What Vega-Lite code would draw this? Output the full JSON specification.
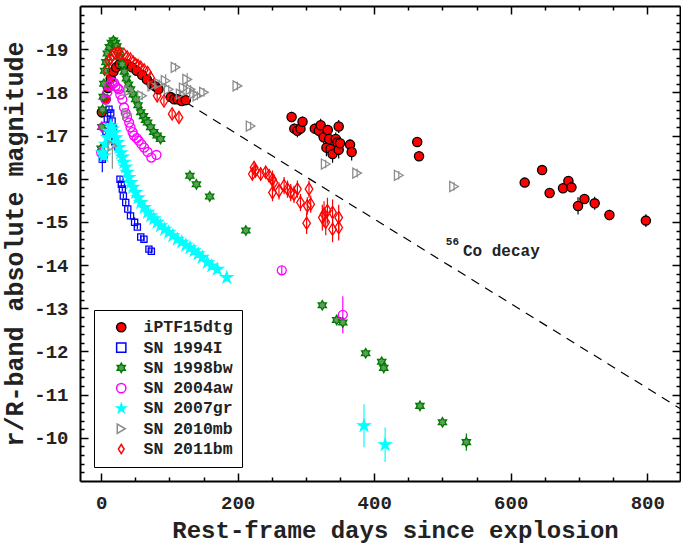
{
  "$schema": "https://vega.github.io/schema/vega-lite/v6.json",
  "width": 600,
  "height": 475,
  "autosize": {"type": "none"},
  "padding": {"left": 80, "top": 6, "right": 1, "bottom": 64},
  "background": "white",
  "config": {
    "view": {"stroke": null},
    "axis": {
      "labelFont": "Liberation Mono", "labelFontWeight": "bold", "labelFontSize": 19, "labelColor": "#222",
      "titleFont": "Liberation Mono", "titleFontWeight": "bold", "titleFontSize": 24, "titleColor": "#222",
      "grid": false, "domainColor": "#000", "domainWidth": 2, "tickColor": "#000", "tickWidth": 1.5
    },
    "legend": {
      "orient": "bottom-left", "offset": 14, "padding": 9,
      "strokeColor": "#000", "fillColor": "#fff",
      "labelFont": "Liberation Mono", "labelFontWeight": "bold", "labelFontSize": 16.5, "labelColor": "#222",
      "rowPadding": 3.3, "labelOffset": 14, "symbolOffset": 10, "symbolSize": 85, "symbolStrokeWidth": 1.5
    }
  },
  "datasets": {
    "pts": [
      {"sn":"iPTF15dtg","day":1,"mag":-17.54,"err":0.12},{"sn":"iPTF15dtg","day":6.6,"mag":-17.84,"err":0.1},{"sn":"iPTF15dtg","day":10,"mag":-18.1,"err":0.08},{"sn":"iPTF15dtg","day":14,"mag":-18.32,"err":0.06},{"sn":"iPTF15dtg","day":18,"mag":-18.48,"err":0.06},{"sn":"iPTF15dtg","day":22,"mag":-18.58,"err":0.05},{"sn":"iPTF15dtg","day":27,"mag":-18.65,"err":0.05},{"sn":"iPTF15dtg","day":32,"mag":-18.68,"err":0.05},{"sn":"iPTF15dtg","day":38,"mag":-18.65,"err":0.05},{"sn":"iPTF15dtg","day":45,"mag":-18.58,"err":0.05},{"sn":"iPTF15dtg","day":52,"mag":-18.5,"err":0.05},{"sn":"iPTF15dtg","day":60,"mag":-18.4,"err":0.05},{"sn":"iPTF15dtg","day":67,"mag":-18.3,"err":0.05},{"sn":"iPTF15dtg","day":74,"mag":-18.19,"err":0.06},{"sn":"iPTF15dtg","day":79,"mag":-18.14,"err":0.06},{"sn":"iPTF15dtg","day":84,"mag":-18.07,"err":0.06},{"sn":"iPTF15dtg","day":102,"mag":-17.89,"err":0.08},{"sn":"iPTF15dtg","day":107,"mag":-17.84,"err":0.08},{"sn":"iPTF15dtg","day":112,"mag":-17.84,"err":0.08},{"sn":"iPTF15dtg","day":118,"mag":-17.8,"err":0.08},{"sn":"iPTF15dtg","day":124,"mag":-17.82,"err":0.08},
      {"sn":"iPTF15dtg","day":279,"mag":-17.43,"err":0.12},{"sn":"iPTF15dtg","day":283,"mag":-17.16,"err":0.12},{"sn":"iPTF15dtg","day":287.5,"mag":-17.11,"err":0.15},{"sn":"iPTF15dtg","day":292,"mag":-17.16,"err":0.12},{"sn":"iPTF15dtg","day":295,"mag":-17.32,"err":0.12},{"sn":"iPTF15dtg","day":313,"mag":-17.16,"err":0.12},{"sn":"iPTF15dtg","day":319,"mag":-17.11,"err":0.15},{"sn":"iPTF15dtg","day":321.6,"mag":-17.24,"err":0.15},{"sn":"iPTF15dtg","day":326,"mag":-16.96,"err":0.15},{"sn":"iPTF15dtg","day":330,"mag":-16.72,"err":0.2},{"sn":"iPTF15dtg","day":332,"mag":-17.13,"err":0.12},{"sn":"iPTF15dtg","day":334,"mag":-16.92,"err":0.15},{"sn":"iPTF15dtg","day":336,"mag":-16.69,"err":0.2},{"sn":"iPTF15dtg","day":339,"mag":-16.57,"err":0.2},{"sn":"iPTF15dtg","day":343.6,"mag":-16.92,"err":0.15},{"sn":"iPTF15dtg","day":346,"mag":-16.84,"err":0.15},{"sn":"iPTF15dtg","day":348,"mag":-17.21,"err":0.15},{"sn":"iPTF15dtg","day":348,"mag":-16.67,"err":0.2},{"sn":"iPTF15dtg","day":350,"mag":-16.82,"err":0.15},{"sn":"iPTF15dtg","day":364.6,"mag":-16.79,"err":0.12},{"sn":"iPTF15dtg","day":367,"mag":-16.62,"err":0.2},{"sn":"iPTF15dtg","day":463,"mag":-16.85,"err":0.1},{"sn":"iPTF15dtg","day":465.7,"mag":-16.52,"err":0.1},
      {"sn":"iPTF15dtg","day":620.5,"mag":-15.91,"err":0.06},{"sn":"iPTF15dtg","day":646,"mag":-16.2,"err":0.06},{"sn":"iPTF15dtg","day":657,"mag":-15.67,"err":0.06},{"sn":"iPTF15dtg","day":676.6,"mag":-15.78,"err":0.08},{"sn":"iPTF15dtg","day":684.5,"mag":-15.95,"err":0.08},{"sn":"iPTF15dtg","day":689,"mag":-15.8,"err":0.08},{"sn":"iPTF15dtg","day":698.6,"mag":-15.37,"err":0.2},{"sn":"iPTF15dtg","day":708,"mag":-15.53,"err":0.08},{"sn":"iPTF15dtg","day":723,"mag":-15.43,"err":0.15},{"sn":"iPTF15dtg","day":744.6,"mag":-15.16,"err":0.12},{"sn":"iPTF15dtg","day":798,"mag":-15.03,"err":0.15},

      {"sn":"SN 1994I","day":1.7,"mag":-16.45,"err":0.3},{"sn":"SN 1994I","day":4,"mag":-16.55,"err":0.15},{"sn":"SN 1994I","day":7,"mag":-17.1,"err":0.1},{"sn":"SN 1994I","day":9,"mag":-17.38,"err":0.08},{"sn":"SN 1994I","day":11.5,"mag":-17.61,"err":0.06},{"sn":"SN 1994I","day":14,"mag":-17.52,"err":0.06},{"sn":"SN 1994I","day":16,"mag":-17.34,"err":0.06},{"sn":"SN 1994I","day":18,"mag":-17.15,"err":0.06},{"sn":"SN 1994I","day":20,"mag":-16.85,"err":0.2},{"sn":"SN 1994I","day":27.6,"mag":-15.99,"err":0.05},{"sn":"SN 1994I","day":29.6,"mag":-15.87,"err":0.05},{"sn":"SN 1994I","day":31,"mag":-15.76,"err":0.05},{"sn":"SN 1994I","day":32.5,"mag":-15.6,"err":0.05},{"sn":"SN 1994I","day":36,"mag":-15.45,"err":0.05},{"sn":"SN 1994I","day":39,"mag":-15.3,"err":0.05},{"sn":"SN 1994I","day":43,"mag":-15.14,"err":0.08},{"sn":"SN 1994I","day":49,"mag":-14.99,"err":0.12},{"sn":"SN 1994I","day":53,"mag":-14.88,"err":0.05},{"sn":"SN 1994I","day":58,"mag":-14.65,"err":0.05},{"sn":"SN 1994I","day":62.7,"mag":-14.6,"err":0.05},{"sn":"SN 1994I","day":70,"mag":-14.37,"err":0.05},{"sn":"SN 1994I","day":73.5,"mag":-14.32,"err":0.05},

      {"sn":"SN 1998bw","day":0,"mag":-16.7,"err":0.1},{"sn":"SN 1998bw","day":1,"mag":-17.2},{"sn":"SN 1998bw","day":2,"mag":-17.6},{"sn":"SN 1998bw","day":3,"mag":-17.9},{"sn":"SN 1998bw","day":4,"mag":-18.2},{"sn":"SN 1998bw","day":5,"mag":-18.5},{"sn":"SN 1998bw","day":7,"mag":-18.7},{"sn":"SN 1998bw","day":9,"mag":-18.9},{"sn":"SN 1998bw","day":12,"mag":-19.05},{"sn":"SN 1998bw","day":15,"mag":-19.15},{"sn":"SN 1998bw","day":18,"mag":-19.2},{"sn":"SN 1998bw","day":21,"mag":-19.15},{"sn":"SN 1998bw","day":23,"mag":-19.07},{"sn":"SN 1998bw","day":25,"mag":-18.97},{"sn":"SN 1998bw","day":28,"mag":-18.82},{"sn":"SN 1998bw","day":31,"mag":-18.65},{"sn":"SN 1998bw","day":34,"mag":-18.48},{"sn":"SN 1998bw","day":37,"mag":-18.32},{"sn":"SN 1998bw","day":40,"mag":-18.18},{"sn":"SN 1998bw","day":43,"mag":-18.07},{"sn":"SN 1998bw","day":47,"mag":-17.95},{"sn":"SN 1998bw","day":50.5,"mag":-17.84},{"sn":"SN 1998bw","day":54,"mag":-17.7},{"sn":"SN 1998bw","day":58,"mag":-17.54},{"sn":"SN 1998bw","day":62,"mag":-17.45},{"sn":"SN 1998bw","day":65,"mag":-17.36},{"sn":"SN 1998bw","day":68,"mag":-17.3},{"sn":"SN 1998bw","day":72.5,"mag":-17.19},{"sn":"SN 1998bw","day":77,"mag":-17.08},{"sn":"SN 1998bw","day":82,"mag":-17.0},{"sn":"SN 1998bw","day":87,"mag":-16.92},{"sn":"SN 1998bw","day":130,"mag":-16.07},{"sn":"SN 1998bw","day":139.5,"mag":-15.87},{"sn":"SN 1998bw","day":159,"mag":-15.59},{"sn":"SN 1998bw","day":212,"mag":-14.8},{"sn":"SN 1998bw","day":324,"mag":-13.07},{"sn":"SN 1998bw","day":345,"mag":-12.73},{"sn":"SN 1998bw","day":354,"mag":-12.67},{"sn":"SN 1998bw","day":387.5,"mag":-11.96},{"sn":"SN 1998bw","day":411,"mag":-11.76},{"sn":"SN 1998bw","day":414,"mag":-11.62},{"sn":"SN 1998bw","day":467,"mag":-10.74},{"sn":"SN 1998bw","day":500,"mag":-10.36},{"sn":"SN 1998bw","day":535,"mag":-9.9,"err":0.2},

      {"sn":"SN 2004aw","day":0,"mag":-16.6,"err":0.2},{"sn":"SN 2004aw","day":3,"mag":-17.2},{"sn":"SN 2004aw","day":6.6,"mag":-17.84},{"sn":"SN 2004aw","day":9,"mag":-18.0},{"sn":"SN 2004aw","day":12,"mag":-18.15},{"sn":"SN 2004aw","day":16,"mag":-18.24},{"sn":"SN 2004aw","day":19,"mag":-18.22},{"sn":"SN 2004aw","day":21,"mag":-18.15},{"sn":"SN 2004aw","day":24,"mag":-18.1},{"sn":"SN 2004aw","day":26,"mag":-18.07},{"sn":"SN 2004aw","day":28,"mag":-17.95},{"sn":"SN 2004aw","day":31,"mag":-17.84},{"sn":"SN 2004aw","day":33.5,"mag":-17.65},{"sn":"SN 2004aw","day":36,"mag":-17.52},{"sn":"SN 2004aw","day":38,"mag":-17.42},{"sn":"SN 2004aw","day":41,"mag":-17.3},{"sn":"SN 2004aw","day":43,"mag":-17.19},{"sn":"SN 2004aw","day":46,"mag":-17.08},{"sn":"SN 2004aw","day":48,"mag":-17.0},{"sn":"SN 2004aw","day":52,"mag":-16.94},{"sn":"SN 2004aw","day":55,"mag":-16.88},{"sn":"SN 2004aw","day":59,"mag":-16.8},{"sn":"SN 2004aw","day":63,"mag":-16.72},{"sn":"SN 2004aw","day":68,"mag":-16.62},{"sn":"SN 2004aw","day":73.5,"mag":-16.49},{"sn":"SN 2004aw","day":81,"mag":-16.55},{"sn":"SN 2004aw","day":264.6,"mag":-13.88,"err":0.1},{"sn":"SN 2004aw","day":354,"mag":-12.85,"err":0.43},

      {"sn":"SN 2007gr","day":2,"mag":-16.6,"err":0.15},{"sn":"SN 2007gr","day":4,"mag":-16.53},{"sn":"SN 2007gr","day":6.5,"mag":-16.8},{"sn":"SN 2007gr","day":9,"mag":-16.96},{"sn":"SN 2007gr","day":11.5,"mag":-17.1},{"sn":"SN 2007gr","day":14,"mag":-17.22},{"sn":"SN 2007gr","day":16.5,"mag":-17.15},{"sn":"SN 2007gr","day":19,"mag":-17.07},{"sn":"SN 2007gr","day":21.5,"mag":-16.95},{"sn":"SN 2007gr","day":24,"mag":-16.84},{"sn":"SN 2007gr","day":26,"mag":-16.72},{"sn":"SN 2007gr","day":28.6,"mag":-16.6},{"sn":"SN 2007gr","day":31,"mag":-16.5},{"sn":"SN 2007gr","day":33.4,"mag":-16.38},{"sn":"SN 2007gr","day":35.7,"mag":-16.27},{"sn":"SN 2007gr","day":38,"mag":-16.15},{"sn":"SN 2007gr","day":40.5,"mag":-16.03},{"sn":"SN 2007gr","day":43,"mag":-15.91},{"sn":"SN 2007gr","day":46.5,"mag":-15.8},{"sn":"SN 2007gr","day":50.5,"mag":-15.68},{"sn":"SN 2007gr","day":54,"mag":-15.56},{"sn":"SN 2007gr","day":58,"mag":-15.45},{"sn":"SN 2007gr","day":63,"mag":-15.33},{"sn":"SN 2007gr","day":68,"mag":-15.22},{"sn":"SN 2007gr","day":72.5,"mag":-15.14},{"sn":"SN 2007gr","day":77,"mag":-15.07},{"sn":"SN 2007gr","day":82,"mag":-14.99},{"sn":"SN 2007gr","day":87,"mag":-14.91},{"sn":"SN 2007gr","day":93,"mag":-14.83},{"sn":"SN 2007gr","day":99,"mag":-14.76},{"sn":"SN 2007gr","day":105,"mag":-14.68},{"sn":"SN 2007gr","day":111.6,"mag":-14.6},{"sn":"SN 2007gr","day":118,"mag":-14.53},{"sn":"SN 2007gr","day":124,"mag":-14.46},{"sn":"SN 2007gr","day":130,"mag":-14.4},{"sn":"SN 2007gr","day":136,"mag":-14.33},{"sn":"SN 2007gr","day":142,"mag":-14.26},{"sn":"SN 2007gr","day":148,"mag":-14.18},{"sn":"SN 2007gr","day":155.6,"mag":-14.06},{"sn":"SN 2007gr","day":162,"mag":-13.98},{"sn":"SN 2007gr","day":170,"mag":-13.9},{"sn":"SN 2007gr","day":184,"mag":-13.71},{"sn":"SN 2007gr","day":385,"mag":-10.28,"err":0.5},{"sn":"SN 2007gr","day":416,"mag":-9.84,"err":0.4},

      {"sn":"SN 2010mb","day":16.4,"mag":-16.76,"err":0.53},{"sn":"SN 2010mb","day":38,"mag":-17.5,"err":0.1},{"sn":"SN 2010mb","day":41,"mag":-18.04,"err":0.1},{"sn":"SN 2010mb","day":60,"mag":-17.92,"err":0.1},{"sn":"SN 2010mb","day":75,"mag":-18.15,"err":0.1},{"sn":"SN 2010mb","day":85,"mag":-18.2,"err":0.1},{"sn":"SN 2010mb","day":94.5,"mag":-18.27,"err":0.15},{"sn":"SN 2010mb","day":99,"mag":-18.07,"err":0.1},{"sn":"SN 2010mb","day":109,"mag":-18.58,"err":0.1},{"sn":"SN 2010mb","day":116.5,"mag":-17.96,"err":0.1},{"sn":"SN 2010mb","day":121,"mag":-18.1,"err":0.1},{"sn":"SN 2010mb","day":126,"mag":-18.3,"err":0.15},{"sn":"SN 2010mb","day":131,"mag":-18.07,"err":0.1},{"sn":"SN 2010mb","day":136,"mag":-17.97,"err":0.1},{"sn":"SN 2010mb","day":141,"mag":-17.92,"err":0.1},{"sn":"SN 2010mb","day":150.6,"mag":-18.0,"err":0.1},{"sn":"SN 2010mb","day":199.6,"mag":-18.15,"err":0.1},{"sn":"SN 2010mb","day":219,"mag":-17.22,"err":0.1},{"sn":"SN 2010mb","day":329,"mag":-16.34,"err":0.1},{"sn":"SN 2010mb","day":375,"mag":-16.13,"err":0.1},{"sn":"SN 2010mb","day":436,"mag":-16.08,"err":0.1},{"sn":"SN 2010mb","day":517,"mag":-15.82,"err":0.1},

      {"sn":"SN 2011bm","day":9,"mag":-18.5},{"sn":"SN 2011bm","day":11.4,"mag":-18.73},{"sn":"SN 2011bm","day":14,"mag":-18.8},{"sn":"SN 2011bm","day":16,"mag":-18.85},{"sn":"SN 2011bm","day":20,"mag":-18.9},{"sn":"SN 2011bm","day":24,"mag":-18.92},{"sn":"SN 2011bm","day":28,"mag":-18.9},{"sn":"SN 2011bm","day":33.4,"mag":-18.88},{"sn":"SN 2011bm","day":38,"mag":-18.82},{"sn":"SN 2011bm","day":43,"mag":-18.77},{"sn":"SN 2011bm","day":47,"mag":-18.7},{"sn":"SN 2011bm","day":50.5,"mag":-18.65},{"sn":"SN 2011bm","day":54,"mag":-18.62},{"sn":"SN 2011bm","day":58,"mag":-18.58},{"sn":"SN 2011bm","day":63,"mag":-18.52},{"sn":"SN 2011bm","day":68,"mag":-18.46},{"sn":"SN 2011bm","day":72.5,"mag":-18.34},{"sn":"SN 2011bm","day":82,"mag":-17.92,"err":0.1},{"sn":"SN 2011bm","day":92,"mag":-17.8,"err":0.1},{"sn":"SN 2011bm","day":104,"mag":-17.5,"err":0.1},{"sn":"SN 2011bm","day":114,"mag":-17.42,"err":0.1},
      {"sn":"SN 2011bm","day":221.5,"mag":-16.11,"err":0.15},{"sn":"SN 2011bm","day":224,"mag":-16.26,"err":0.15},{"sn":"SN 2011bm","day":226,"mag":-16.18,"err":0.15},{"sn":"SN 2011bm","day":233.7,"mag":-16.11,"err":0.15},{"sn":"SN 2011bm","day":241,"mag":-16.15,"err":0.15},{"sn":"SN 2011bm","day":246,"mag":-16.07,"err":0.15},{"sn":"SN 2011bm","day":251,"mag":-15.99,"err":0.2},{"sn":"SN 2011bm","day":251,"mag":-15.68,"err":0.2},{"sn":"SN 2011bm","day":253,"mag":-15.91,"err":0.2},{"sn":"SN 2011bm","day":260.5,"mag":-15.72,"err":0.2},{"sn":"SN 2011bm","day":268,"mag":-15.84,"err":0.2},{"sn":"SN 2011bm","day":273,"mag":-15.76,"err":0.2},{"sn":"SN 2011bm","day":277.7,"mag":-15.68,"err":0.2},{"sn":"SN 2011bm","day":282.5,"mag":-15.64,"err":0.2},{"sn":"SN 2011bm","day":287.5,"mag":-15.76,"err":0.2},{"sn":"SN 2011bm","day":292,"mag":-15.45,"err":0.2},{"sn":"SN 2011bm","day":301,"mag":-14.97,"err":0.25},{"sn":"SN 2011bm","day":302,"mag":-15.37,"err":0.2},{"sn":"SN 2011bm","day":304.5,"mag":-15.76,"err":0.2},{"sn":"SN 2011bm","day":307,"mag":-15.41,"err":0.2},{"sn":"SN 2011bm","day":324,"mag":-15.1,"err":0.3},{"sn":"SN 2011bm","day":326.5,"mag":-15.18,"err":0.3},{"sn":"SN 2011bm","day":329,"mag":-14.99,"err":0.3},{"sn":"SN 2011bm","day":331.5,"mag":-15.26,"err":0.3},{"sn":"SN 2011bm","day":339,"mag":-15.22,"err":0.3},{"sn":"SN 2011bm","day":339,"mag":-14.83,"err":0.3},{"sn":"SN 2011bm","day":348,"mag":-15.1,"err":0.3},{"sn":"SN 2011bm","day":348,"mag":-14.87,"err":0.3}
    ],
    "co": [{"day": 124, "mag": -17.77}, {"day": 848, "mag": -10.68}]
  },
  "resolve": {"axis": {"x": "independent", "y": "independent"}},
  "layer": [
    {
      "data": {"name": "co"},
      "mark": {"type": "line", "color": "#000", "strokeWidth": 1.2, "strokeDash": [9, 7]},
      "encoding": {
        "x": {"field": "day", "type": "quantitative", "scale": {"domain": [-31, 848], "nice": false, "zero": false},
          "axis": {"orient": "top", "labels": false, "title": null,
            "values": [0,50,100,150,200,250,300,350,400,450,500,550,600,650,700,750,800],
            "tickSize": {"condition": {"test": "datum.value % 200 === 0", "value": -8}, "value": -4}}},
        "y": {"field": "mag", "type": "quantitative", "scale": {"domain": [-20, -9], "reverse": true, "nice": false, "zero": false},
          "axis": {"orient": "right", "labels": false, "title": null,
            "values": [-19.8,-19.6,-19.4,-19.2,-19,-18.8,-18.6,-18.4,-18.2,-18,-17.8,-17.6,-17.4,-17.2,-17,-16.8,-16.6,-16.4,-16.2,-16,-15.8,-15.6,-15.4,-15.2,-15,-14.8,-14.6,-14.4,-14.2,-14,-13.8,-13.6,-13.4,-13.2,-13,-12.8,-12.6,-12.4,-12.2,-12,-11.8,-11.6,-11.4,-11.2,-11,-10.8,-10.6,-10.4,-10.2,-10,-9.8,-9.6,-9.4,-9.2],
            "tickSize": {"condition": {"test": "abs(datum.value - round(datum.value)) < 0.01", "value": -8}, "value": -4}}}
      }
    },
    {
      "data": {"name": "pts"},
      "transform": [{"filter": "isValid(datum.err) && datum.err > 0"}],
      "mark": {"type": "errorbar", "thickness": 1.2},
      "encoding": {
        "x": {"field": "day", "type": "quantitative", "axis": null},
        "y": {"field": "mag", "type": "quantitative", "axis": null},
        "yError": {"field": "err"},
        "color": {"field": "sn", "type": "nominal", "legend": null,
          "scale": {"domain": ["SN 2011bm","SN 2010mb","SN 2007gr","SN 2004aw","SN 1998bw","SN 1994I","iPTF15dtg"],
            "range": ["#ff0000","#8c8c8c","#00ffff","#ff00ff","#008000","#0000ff","#000000"]}}
      }
    },
    {
      "data": {"name": "pts"},
      "mark": {"type": "point", "filled": true, "opacity": 1, "strokeWidth": 1.3},
      "encoding": {
        "x": {"field": "day", "type": "quantitative",
          "axis": {"orient": "bottom", "title": "Rest-frame days since explosion",
            "values": [0,50,100,150,200,250,300,350,400,450,500,550,600,650,700,750,800],
            "labelExpr": "datum.value % 200 === 0 ? '' + datum.value : ''",
            "tickSize": {"condition": {"test": "datum.value % 200 === 0", "value": -8}, "value": -4},
            "labelPadding": 20, "titlePadding": 6, "titleX": 315}},
        "y": {"field": "mag", "type": "quantitative",
          "axis": {"orient": "left", "title": "r/R-band absolute magnitude", "titleFontSize": 25,
            "values": [-19.8,-19.6,-19.4,-19.2,-19,-18.8,-18.6,-18.4,-18.2,-18,-17.8,-17.6,-17.4,-17.2,-17,-16.8,-16.6,-16.4,-16.2,-16,-15.8,-15.6,-15.4,-15.2,-15,-14.8,-14.6,-14.4,-14.2,-14,-13.8,-13.6,-13.4,-13.2,-13,-12.8,-12.6,-12.4,-12.2,-12,-11.8,-11.6,-11.4,-11.2,-11,-10.8,-10.6,-10.4,-10.2,-10,-9.8,-9.6,-9.4,-9.2],
            "labelExpr": "abs(datum.value - round(datum.value)) < 0.01 ? '' + round(datum.value) : ''",
            "tickSize": {"condition": {"test": "abs(datum.value - round(datum.value)) < 0.01", "value": -8}, "value": -4},
            "labelPadding": 20, "titlePadding": 6}},
        "shape": {"field": "sn", "type": "nominal", "title": null,
          "scale": {"domain": ["iPTF15dtg","SN 1994I","SN 1998bw","SN 2004aw","SN 2007gr","SN 2010mb","SN 2011bm"],
            "range": ["circle","square","M0,-1L0.289,-0.5L0.866,-0.5L0.577,0L0.866,0.5L0.289,0.5L0,1L-0.289,0.5L-0.866,0.5L-0.577,0L-0.866,-0.5L-0.289,-0.5Z","circle","M0,-1L0.225,-0.309L0.951,-0.309L0.363,0.118L0.588,0.809L0,0.382L-0.588,0.809L-0.363,0.118L-0.951,-0.309L-0.225,-0.309Z","triangle-right","M0,-1L0.62,0L0,1L-0.62,0Z"]}},
        "stroke": {"field": "sn", "type": "nominal", "title": null,
          "scale": {"domain": ["iPTF15dtg","SN 1994I","SN 1998bw","SN 2004aw","SN 2007gr","SN 2010mb","SN 2011bm"],
            "range": ["#000000","#0000ff","#007a00","#ff00ff","#00ffff","#8c8c8c","#ff0000"]}},
        "fill": {"field": "sn", "type": "nominal", "title": null,
          "scale": {"domain": ["iPTF15dtg","SN 1994I","SN 1998bw","SN 2004aw","SN 2007gr","SN 2010mb","SN 2011bm"],
            "range": ["#ff0000","transparent","#5a9e5a","transparent","#00ffff","transparent","transparent"]}},
        "size": {
          "condition": [
            {"test": "datum.sn === 'SN 1994I'", "value": 38},
            {"test": "datum.sn === 'SN 1998bw'", "value": 90},
            {"test": "datum.sn === 'SN 2004aw'", "value": 80},
            {"test": "datum.sn === 'SN 2007gr'", "value": 150},
            {"test": "datum.sn === 'SN 2010mb'", "value": 100},
            {"test": "datum.sn === 'SN 2011bm'", "value": 150}
          ],
          "value": 85
        }
      }
    },
    {
      "data": {"values": [{"day": 505, "mag": -14.54, "label": "56"}]},
      "mark": {"type": "text", "align": "left", "baseline": "middle", "font": "Liberation Mono", "fontWeight": "bold", "fontSize": 11, "color": "#222"},
      "encoding": {
        "x": {"field": "day", "type": "quantitative", "axis": null},
        "y": {"field": "mag", "type": "quantitative", "axis": null},
        "text": {"field": "label"}
      }
    },
    {
      "data": {"values": [{"day": 530, "mag": -14.33, "label": "Co decay"}]},
      "mark": {"type": "text", "align": "left", "baseline": "middle", "font": "Liberation Mono", "fontWeight": "bold", "fontSize": 16, "color": "#222"},
      "encoding": {
        "x": {"field": "day", "type": "quantitative", "axis": null},
        "y": {"field": "mag", "type": "quantitative", "axis": null},
        "text": {"field": "label"}
      }
    }
  ]
}
